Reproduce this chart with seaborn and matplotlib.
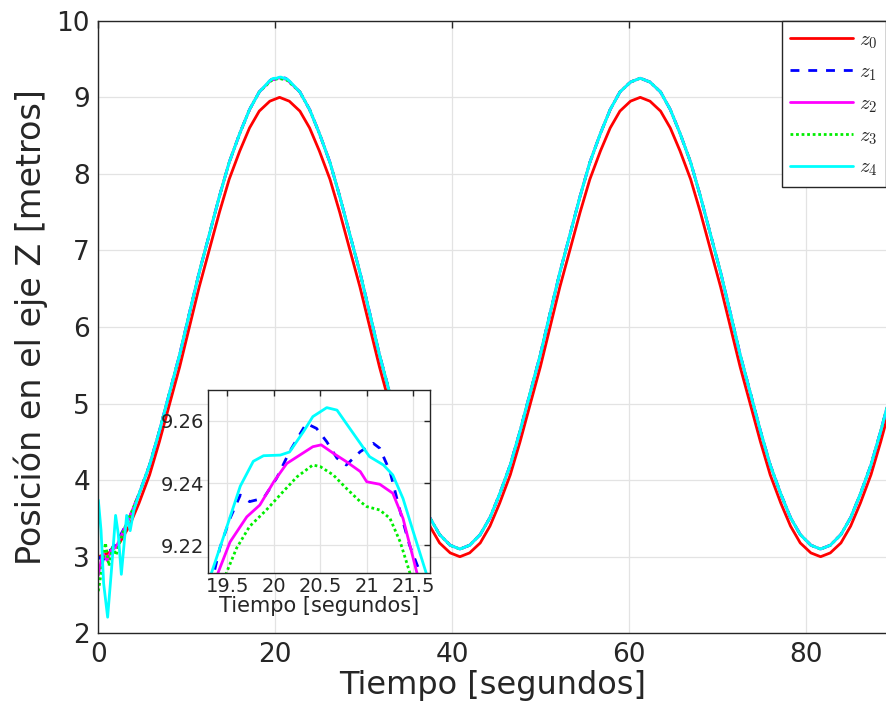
import matplotlib
matplotlib.use("Agg")
import numpy as np
import pandas as pd
import seaborn as sns
import matplotlib.pyplot as plt

# tiempo de muestreo (s)
tiempo = [0.0, 1.2, 2.4, 3.5, 4.6, 5.8, 6.9, 8.0, 9.2, 10.3,
          11.4, 12.6, 13.7, 14.8, 16.0, 17.1, 18.2, 19.4, 20.5, 21.6,
          22.8, 23.9, 25.0, 26.2, 27.3, 28.4, 29.6, 30.7, 31.8, 33.0,
          34.1, 35.2, 36.4, 37.5, 38.6, 39.8, 40.9, 42.0, 43.2, 44.3,
          45.4, 46.6, 47.7, 48.8, 50.0, 51.1, 52.2, 53.4, 54.5, 55.6,
          56.8, 57.9, 59.0, 60.2, 61.3, 62.4, 63.6, 64.7, 65.8, 67.0,
          68.1, 69.2, 70.4, 71.5, 72.6, 73.8, 74.9, 76.0, 77.2, 78.3,
          79.4, 80.6, 81.7, 82.8, 84.0, 85.1, 86.2, 87.4, 88.5, 89.6]

# referencia z0
z0 = [3.00, 3.05, 3.18, 3.40, 3.70, 4.07, 4.50, 4.97, 5.48, 6.00,
      6.52, 7.03, 7.50, 7.93, 8.30, 8.60, 8.82, 8.95, 9.00, 8.95,
      8.82, 8.60, 8.30, 7.93, 7.50, 7.03, 6.52, 6.00, 5.48, 4.97,
      4.50, 4.07, 3.70, 3.40, 3.18, 3.05, 3.00, 3.05, 3.18, 3.40,
      3.70, 4.07, 4.50, 4.97, 5.48, 6.00, 6.52, 7.03, 7.50, 7.93,
      8.30, 8.60, 8.82, 8.95, 9.00, 8.95, 8.82, 8.60, 8.30, 7.93,
      7.50, 7.03, 6.52, 6.00, 5.48, 4.97, 4.50, 4.07, 3.70, 3.40,
      3.18, 3.05, 3.00, 3.05, 3.18, 3.40, 3.70, 4.07, 4.50, 4.97]

# seguidores z1..z4 (practicamente iguales en la vista general)
z_seg = [3.10, 3.15, 3.29, 3.51, 3.82, 4.20, 4.64, 5.12, 5.64, 6.18,
         6.71, 7.23, 7.71, 8.15, 8.53, 8.84, 9.07, 9.20, 9.25, 9.20,
         9.07, 8.84, 8.53, 8.15, 7.71, 7.23, 6.71, 6.18, 5.64, 5.12,
         4.64, 4.20, 3.82, 3.51, 3.29, 3.15, 3.10, 3.15, 3.29, 3.51,
         3.82, 4.20, 4.64, 5.12, 5.64, 6.18, 6.71, 7.23, 7.71, 8.15,
         8.53, 8.84, 9.07, 9.20, 9.25, 9.20, 9.07, 8.84, 8.53, 8.15,
         7.71, 7.23, 6.71, 6.18, 5.64, 5.12, 4.64, 4.20, 3.82, 3.51,
         3.29, 3.15, 3.10, 3.15, 3.29, 3.51, 3.82, 4.20, 4.64, 5.12]

# transitorio inicial de cada seguidor
t_ini_z1 = [0.0, 0.5, 1.0, 1.5, 2.0, 2.5, 3.0]
z_ini_z1 = [3.00, 2.95, 3.05, 3.10, 3.20, 3.28, 3.39]
t_ini_z2 = [0.0, 0.5, 1.0, 1.5, 2.0, 2.5, 3.0]
z_ini_z2 = [2.76, 3.05, 2.95, 3.10, 3.12, 3.25, 3.38]
t_ini_z3 = [0.0, 0.4, 0.8, 1.2, 1.6, 2.0, 2.5, 3.0]
z_ini_z3 = [2.55, 2.85, 3.18, 2.88, 3.12, 3.02, 3.22, 3.38]
t_ini_z4 = [0.0, 0.3, 0.6, 1.05, 1.5, 1.95, 2.25, 2.6, 2.9, 3.2, 3.6, 4.0]
z_ini_z4 = [3.74, 3.35, 2.65, 2.21, 2.85, 3.54, 3.30, 2.77, 3.15, 3.54, 3.34, 3.60]

# detalle alrededor del primer maximo (zoom)
t_det_z1 = [19.36, 19.42, 19.53, 19.64, 19.74, 19.89, 20.03, 20.17, 20.35, 20.46,
            20.57, 20.68, 20.78, 20.93, 21.07, 21.14, 21.25, 21.36, 21.46, 21.57]
z_det_z1 = [9.2114, 9.219, 9.2286, 9.2361, 9.234, 9.2351, 9.2415, 9.2501, 9.2592, 9.2576,
            9.2533, 9.248, 9.2458, 9.2501, 9.2528, 9.2512, 9.2437, 9.2308, 9.22, 9.2114]
t_det_z2 = [19.40, 19.53, 19.71, 19.85, 20.0, 20.14, 20.28, 20.42, 20.51, 20.64,
            20.78, 20.93, 21.0, 21.14, 21.28, 21.39, 21.54]
z_det_z2 = [9.211, 9.221, 9.2291, 9.2329, 9.2404, 9.2463, 9.249, 9.2517, 9.2523, 9.2496,
            9.2469, 9.2437, 9.2404, 9.2396, 9.2367, 9.2286, 9.211]
t_det_z3 = [19.49, 19.60, 19.74, 19.92, 20.1, 20.25, 20.42, 20.5, 20.64, 20.78,
            20.93, 21.0, 21.14, 21.25, 21.36, 21.46]
z_det_z3 = [9.211, 9.219, 9.226, 9.2313, 9.2372, 9.242, 9.2458, 9.2453, 9.2426, 9.2383,
            9.234, 9.2324, 9.2313, 9.2286, 9.221, 9.2114]
t_det_z4 = [19.33, 19.475, 19.64, 19.78, 19.89, 20.07, 20.17, 20.32, 20.42, 20.57,
            20.68, 20.78, 20.93, 21.03, 21.18, 21.28, 21.39, 21.5, 21.64]
z_det_z4 = [9.211, 9.224, 9.239, 9.247, 9.2488, 9.249, 9.250, 9.2566, 9.2614, 9.2643,
            9.2635, 9.2592, 9.2528, 9.2485, 9.2458, 9.2426, 9.235, 9.2243, 9.2109]


def armar(t_ini, z_ini, t_det, z_det):
    # serie general + transitorio + detalle del pico
    pts = [(a, b) for a, b in zip(tiempo, z_seg)
           if a > t_ini[-1] and not (19.25 <= a <= 21.7)]
    pts += list(zip(t_ini, z_ini)) + list(zip(t_det, z_det))
    return pd.DataFrame(pts, columns=["t", "z"]).sort_values("t")


series = [
    ("$z_0$", pd.DataFrame({"t": tiempo, "z": z0}), "#ff0000", "-"),
    ("$z_1$", armar(t_ini_z1, z_ini_z1, t_det_z1, z_det_z1), "#0000ff", (0, (3.2, 3.2))),
    ("$z_2$", armar(t_ini_z2, z_ini_z2, t_det_z2, z_det_z2), "#ff00ff", "-"),
    ("$z_3$", armar(t_ini_z3, z_ini_z3, t_det_z3, z_det_z3), "#00ee00", (0, (1, 1))),
    ("$z_4$", armar(t_ini_z4, z_ini_z4, t_det_z4, z_det_z4), "#00ffff", "-"),
]

sns.set_theme(style="whitegrid")
plt.rcParams["font.family"] = ["DejaVu Sans"]
plt.rcParams["mathtext.fontset"] = "cm"
gris = "#262626"

fig = plt.figure(figsize=(8.86, 7.24), dpi=100)
ax = fig.add_axes([0.111, 0.1253, 0.889, 0.846])
axin = fig.add_axes([0.2351, 0.2086, 0.2502, 0.2528])

for eje in (ax, axin):
    for lab, df, col, ls in series:
        sns.lineplot(data=df, x="t", y="z", ax=eje, color=col, linestyle=ls,
                     lw=2, estimator=None, label=lab)
    if eje.get_legend() is not None:
        eje.get_legend().remove()
    eje.set_facecolor("white")
    eje.grid(True, color="#e3e3e3", lw=0.9)
    for s in eje.spines.values():
        s.set_color(gris)
        s.set_linewidth(1.0)
    eje.tick_params(direction="in", top=True, right=True, colors=gris,
                    length=5, width=1)

# ejes principales
ax.spines["right"].set_visible(False)
ax.tick_params(right=False)
ax.set_xlim(0, 89.1)
ax.set_ylim(2, 10)
ax.set_xticks([0, 20, 40, 60, 80])
ax.set_yticks([2, 3, 4, 5, 6, 7, 8, 9, 10])
ax.tick_params(labelsize=19, pad=6)
ax.set_xlabel("Tiempo [segundos]", fontsize=23, color=gris, labelpad=2)
ax.set_ylabel("Posición en el eje Z [metros]", fontsize=24, color=gris, labelpad=6)

leg = ax.legend(loc="upper right", borderaxespad=0, fancybox=False,
                edgecolor=gris, framealpha=1, fontsize=15, handlelength=3.0,
                handletextpad=0.3, labelspacing=0.5, borderpad=0.4)
leg.get_frame().set_linewidth(1.0)

# recuadro de zoom
axin.set_xlim(19.296, 21.68)
axin.set_ylim(9.211, 9.270)
axin.set_xticks([19.5, 20, 20.5, 21, 21.5])
axin.set_xticklabels(["19.5", "20", "20.5", "21", "21.5"])
axin.set_yticks([9.22, 9.24, 9.26])
axin.set_yticklabels(["9.22", "9.24", "9.26"])
axin.tick_params(labelsize=14, pad=3, length=4)
axin.set_xlabel("Tiempo [segundos]", fontsize=15, color=gris, labelpad=0)
axin.set_ylabel("")

fig.savefig("out.png", dpi=100)
